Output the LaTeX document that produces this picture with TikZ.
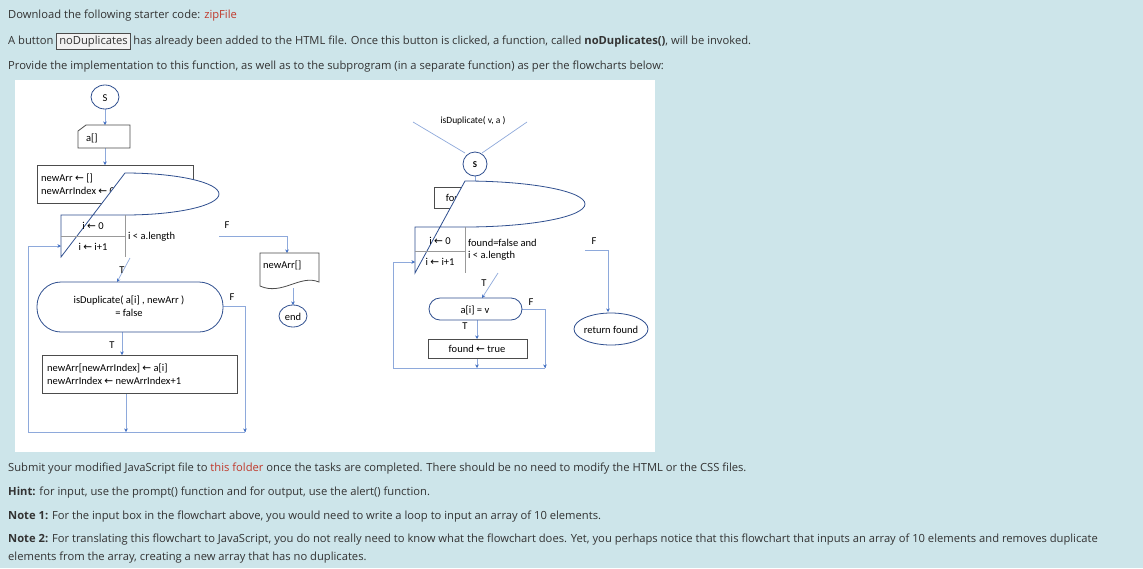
\documentclass[tikz,border=0pt]{standalone}
\usepackage{fontspec}
\setmainfont{Open Sans}
\newfontfamily\fc{Carlito}
\newfontfamily\dv{DejaVu Sans}
\newcommand{\la}{{\dv\char"2190}}
\usetikzlibrary{arrows.meta}
\definecolor{bg}{HTML}{CDE5EA}
\definecolor{txt}{HTML}{333333}
\definecolor{lnk}{HTML}{C0392B}
\definecolor{fl}{HTML}{8EA9DB}
\definecolor{ar}{HTML}{4472C4}
\definecolor{sh}{HTML}{2F4F8F}
\tikzset{
  pg/.style={anchor=base west,inner sep=0pt,text=txt,font=\fontsize{11.2}{13}\selectfont},
  ft/.style={inner sep=0pt,text=black,font=\fc\fontsize{10.5}{12.5}\selectfont},
  fl/.style={draw=fl,line width=0.7pt},
  fa/.style={fl,-{Stealth[length=3.5pt,width=3.5pt,color=ar]}},
  box/.style={draw=black!70,line width=0.8pt,fill=white},
  shp/.style={draw=sh,line width=0.8pt,fill=white},
}
\begin{document}
\begin{tikzpicture}[x=1pt,y=-1pt]
\fill[bg] (0,0) rectangle (1143,568);
\useasboundingbox (0,0) rectangle (1143,568);
% page text
\node[pg] (t1) at (8,18) {Download the following starter code: \textcolor{lnk}{zipFile}};
\node[pg] (t2) at (8,44) {A button \tikz[baseline=(b.base)]\node[draw=black!70,fill=black!5,inner sep=2.5pt,line width=0.8pt](b){noDuplicates}; has already been added to the HTML file. Once this button is clicked, a function, called \textbf{noDuplicates()}, will be invoked.};
\node[pg] (t3) at (8,69) {Provide the implementation to this function, as well as to the subprogram (in a separate function) as per the flowcharts below:};
\node[pg] (t4) at (8,471) {Submit your modified JavaScript file to \textcolor{lnk}{this folder} once the tasks are completed. There should be no need to modify the HTML or the CSS files.};
\node[pg] (t5) at (8,495) {\textbf{Hint:} for input, use the prompt() function and for output, use the alert() function.};
\node[pg] (t6) at (8,519) {\textbf{Note 1:} For the input box in the flowchart above, you would need to write a loop to input an array of 10 elements.};
\node[pg] (t7) at (8,542) {\textbf{Note 2:} For translating this flowchart to JavaScript, you do not really need to know what the flowchart does. Yet, you perhaps notice that this flowchart that inputs an array of 10 elements and removes duplicate};
\node[pg] (t8) at (8,560) {elements from the array, creating a new array that has no duplicates.};
% panel
\fill[white] (15,80) rectangle (655,452);

% ===== left flowchart =====
% connectors first
\coordinate (bl) at (28,432); \coordinate (br) at (245,432);
\draw[fa] (105,109) -- (105,125);
\draw[fa] (105,148) -- (105,165);
\draw[fa] (105,203) -- (105,215);
\draw[fa] (219,236) -- (287,236) -- (287,253);
\draw[fa] (293,288) -- (293,305);
\draw[fa] (130,258) -- (117,282);
\draw[fl] (223,306) -- (245,306) -- (br);
\draw[fa] (245,420) -- (245,432);
\draw[fa] (122,332) -- (122,355);
\draw[fa] (126,393) -- (126,432);
\draw[fl] (bl) -- (br);
\draw[fa] (bl) -- (28,246) -- (61,246);
% shapes
\draw[shp] (105,97) ellipse (14 and 12);
\node[ft] (s1) at (105,98) {S};
\draw[box] (78,131) -- (86,125) -- (130,125) -- (130,148) -- (78,148) -- cycle;
\node[ft,anchor=west] (a1) at (86,138) {a[]};
\draw[box] (37,165) rectangle (193,203);
\node[ft,anchor=west,align=left] (n1) at (41,184) {newArr \la{} []\\newArrIndex \la{} 0};
\draw[shp] (61,215) -- (125,215) arc[start angle=90,end angle=-90,x radius=94,y radius=21] -- (61,257) -- cycle;
\draw[draw=black!40,line width=0.5pt] (61,236) -- (125,236) (125,215) -- (125,257);
\node[ft] (l1) at (93,226) {i \la{} 0};
\node[ft] (l2) at (93,247) {i \la{} i+1};
\node[ft,anchor=west] (l3) at (128,237) {i < a.length};
\node[ft] (f1) at (227,225) {F};
\draw[box] (260,253) -- (319,253) -- (319,282) .. controls (300,274) and (282,296) .. (260,286) -- cycle;
\node[ft,anchor=west] (na) at (263,265) {newArr[]};
\draw[shp] (293,316) ellipse (14 and 11);
\node[ft] (e1) at (293,317) {end};
\node[ft] (tt1) at (122,270) {T};
\draw[shp,rounded corners=24] (37,282) rectangle (223,332);
\node[ft,align=center] (d1) at (129,306) {isDuplicate( a[i] , newArr )\\= false};
\node[ft] (f2) at (232,297) {F};
\node[ft] (tt2) at (112,345) {T};
\draw[box] (42,355) rectangle (237,393);
\node[ft,anchor=west,align=left] (n2) at (47,374) {newArr[newArrIndex] \la{} a[i]\\newArrIndex \la{} newArrIndex+1};

% ===== right flowchart =====
\coordinate (rbl) at (393,368); \coordinate (rbr) at (545,368);
\node[ft,font=\fc\fontsize{9.5}{11}\selectfont] (h) at (473,121) {isDuplicate( v, a )};
\draw[fl] (413,122) -- (465,153);
\draw[fl] (527,122) -- (482,153);
\draw[fa] (475,176) -- (475,187);
\draw[fa] (470,208) -- (445,227);
\draw[fa] (585,250) -- (608,250) -- (608,312);
\draw[fa] (498,273) -- (482,298);
\draw[fl] (522,309) -- (545,309) -- (rbr);
\draw[fa] (545,358) -- (rbr);
\draw[fa] (477,320) -- (477,339);
\draw[fa] (477,358) -- (477,368);
\draw[fl] (rbl) -- (rbr);
\draw[fa] (rbl) -- (393,262) -- (415,262);
\draw[shp] (475,164) circle (12);
\node[ft,font=\fc\bfseries\fontsize{9}{11}\selectfont] (s2) at (475,165) {S};
\draw[box] (434,187) rectangle (517,208);
\node[ft] (fd) at (475,198) {found \la{} false};
\draw[shp] (415,227) -- (465,227) arc[start angle=90,end angle=-90,x radius=120,y radius=23] -- (415,273) -- cycle;
\draw[draw=black!40,line width=0.5pt] (415,251) -- (465,251) (465,227) -- (465,273);
\node[ft] (r1) at (440,241) {i \la{} 0};
\node[ft] (r2) at (440,262) {i \la{} i+1};
\node[ft,anchor=west,align=left] (r3) at (468,250) {found=false and\\i < a.length};
\node[ft] (f3) at (594,241) {F};
\node[ft] (tt3) at (484,283) {T};
\draw[shp,rounded corners=11] (429,298) rectangle (522,320);
\node[ft] (c1) at (475,310) {a[i] = v};
\node[ft] (f4) at (531,302) {F};
\node[ft] (tt4) at (465,326) {T};
\draw[box] (428,339) rectangle (527,358);
\node[ft] (ft1) at (477,349) {found \la{}  true};
\draw[shp] (611,329) ellipse (37 and 16);
\node[ft] (rf) at (611,330) {return found};
\end{tikzpicture}
\end{document}
